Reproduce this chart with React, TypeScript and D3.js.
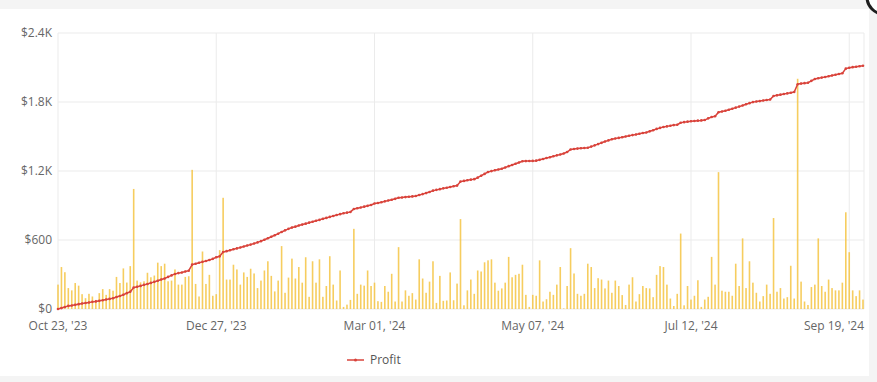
import React from "react";
import * as d3 from "d3";

const tickLabels = ["Oct 23, '23", "Dec 27, '23", "Mar 01, '24", "May 07, '24", "Jul 12, '24", "Sep 19, '24"];
const tickIndices = [0, 46, 92, 138, 184, 230];
const yTicks = [0, 600, 1200, 1800, 2400];

const barValues = [
  212, 365, 320, 182, 162, 226, 203, 129, 94, 132,
  109, 79, 138, 173, 123, 173, 159, 279, 226, 353,
  230, 373, 1044, 247, 232, 241, 315, 276, 291, 403,
  373, 394, 241, 247, 344, 212, 212, 279, 285, 1210,
  218, 109, 500, 218, 297, 115, 129, 512, 967, 256,
  256, 385, 344, 212, 318, 279, 350, 309, 182, 247,
  335, 415, 288, 153, 247, 547, 141, 273, 438, 265,
  365, 229, 450, 106, 415, 229, 432, 106, 200, 459,
  212, 74, 335, 18, 38, 79, 697, 132, 212, 203,
  335, 200, 229, 68, 62, 200, 150, 306, 65, 538,
  65, 162, 115, 138, 82, 432, 265, 141, 238, 415,
  53, 288, 71, 74, 318, 76, 221, 782, 32, 162,
  256, 132, 335, 326, 406, 423, 432, 229, 159, 179,
  229, 453, 276, 297, 306, 385, 123, 18, 123, 115,
  423, 65, 85, 150, 123, 212, 365, 5, 200, 529,
  309, 132, 115, 132, 394, 365, 182, 268, 256, 179,
  247, 141, 247, 200, 121, 35, 212, 276, 65, 129,
  200, 182, 179, 103, 297, 373, 365, 212, 91, 26,
  132, 656, 32, 200, 82, 115, 250, 18, 82, 106,
  453, 212, 1190, 159, 150, 150, 115, 394, 200, 614,
  182, 415, 229, 141, 65, 112, 212, 132, 791, 150,
  182, 91, 103, 376, 91, 2002, 238, 65, 35, 191,
  212, 614, 200, 150, 256, 182, 162, 162, 229, 841,
  494, 162, 112, 162, 82,
];

const profitValues = [
  0, 8, 18, 27, 31, 36, 42, 48, 52, 57,
  62, 66, 71, 76, 82, 88, 94, 104, 113, 124,
  138, 150, 186, 193, 201, 210, 218, 227, 236, 246,
  256, 265, 279, 292, 305, 312, 318, 326, 333, 386,
  393, 402, 410, 418, 426, 436, 450, 458, 496, 503,
  511, 519, 527, 535, 543, 552, 560, 569, 579, 590,
  602, 615, 628, 641, 655, 670, 684, 697, 708, 716,
  726, 734, 742, 751, 759, 768, 775, 784, 792, 801,
  809, 817, 825, 833, 838, 844, 870, 876, 882, 890,
  897, 905, 917, 922, 928, 936, 944, 950, 958, 967,
  970, 973, 976, 979, 982, 991, 999, 1008, 1018, 1029,
  1036, 1042, 1049, 1055, 1061, 1067, 1073, 1108, 1114, 1120,
  1125, 1129, 1142, 1159, 1175, 1191, 1199, 1206, 1213, 1220,
  1231, 1242, 1252, 1263, 1274, 1285, 1286, 1287, 1288, 1290,
  1297, 1305, 1313, 1320, 1328, 1336, 1344, 1352, 1365, 1387,
  1391, 1395, 1398, 1400, 1402, 1412, 1423, 1434, 1445, 1456,
  1466, 1476, 1482, 1488, 1494, 1500, 1506, 1512, 1518, 1524,
  1530, 1535, 1545, 1555, 1566, 1575, 1582, 1588, 1593, 1599,
  1602, 1619, 1625, 1629, 1632, 1635, 1638, 1640, 1643, 1658,
  1670, 1676, 1711, 1717, 1724, 1732, 1741, 1751, 1760, 1770,
  1780, 1790, 1799, 1804, 1808, 1813, 1818, 1822, 1852, 1858,
  1864, 1869, 1875, 1880, 1887, 1955, 1960, 1964, 1968, 1984,
  2000, 2006, 2012, 2018, 2024, 2031, 2037, 2044, 2050, 2090,
  2098, 2103, 2107, 2111, 2115,
];

const W = 877;
const H = 382;
const M = { left: 58, right: 864, top: 33, bottom: 309 };
const FONT = "'Open Sans', 'Noto Sans', sans-serif";

export default function App() {
  const n = barValues.length;
  const x = d3.scaleLinear().domain([0, n - 1]).range([M.left, M.right - 1]);
  const y = d3.scaleLinear().domain([0, 2400]).range([M.bottom, M.top]);
  const line = d3
    .line<number>()
    .x((_, i) => x(i))
    .y((d) => y(d));

  return (
    <svg
      width={W}
      height={H}
      style={{ position: "absolute", left: 0, top: 0, fontFamily: FONT }}
    >
      <rect x={0} y={0} width={W} height={H} fill="#f4f4f4" />
      <rect x={0} y={9} width={869} height={367} fill="#ffffff" />
      <circle cx={884} cy={-3} r={17} fill="#ffffff" stroke="#1e1e1e" strokeWidth={3} />

      {/* grid */}
      {yTicks.map((t) => (
        <line
          key={"gy" + t}
          x1={M.left}
          x2={M.right}
          y1={y(t)}
          y2={y(t)}
          stroke="#ebebeb"
          strokeWidth={1}
        />
      ))}
      {tickIndices.map((ti) => (
        <line
          key={"gx" + ti}
          x1={x(ti)}
          x2={x(ti)}
          y1={M.top}
          y2={M.bottom}
          stroke="#ebebeb"
          strokeWidth={1}
        />
      ))}
      <line x1={M.right} x2={M.right} y1={M.top} y2={M.bottom} stroke="#ebebeb" />

      {/* bars */}
      {barValues.map((v, i) => (
        <rect
          key={"b" + i}
          x={x(i) - 0.8}
          y={y(v)}
          width={1.6}
          height={y(0) - y(v)}
          fill="#f5c443"
          opacity={0.85}
        />
      ))}

      {/* profit line */}
      <path d={line(profitValues) || ""} fill="none" stroke="#d9433b" strokeWidth={1.5} />
      {profitValues.map((v, i) => (
        <circle key={"p" + i} cx={x(i)} cy={y(v)} r={1.3} fill="#d9433b" />
      ))}

      {/* y labels */}
      {yTicks.map((t) => (
        <text
          key={"yl" + t}
          x={52}
          y={y(t)}
          dy="0.35em"
          textAnchor="end"
          fontSize={12}
          fill="#666"
        >
          {t === 0 ? "$0" : t >= 1000 ? `$${d3.format(".1f")(t / 1000)}K` : `$${t}`}
        </text>
      ))}

      {/* x labels */}
      {tickIndices.map((ti, k) => {
        const last = k === tickIndices.length - 1;
        return (
          <text
            key={"xl" + ti}
            x={last ? M.right : x(ti)}
            y={326}
            dy="0.35em"
            textAnchor={last ? "end" : "middle"}
            fontSize={12}
            fill="#666"
          >
            {tickLabels[k]}
          </text>
        );
      })}

      {/* legend */}
      <line x1={347} x2={364} y1={360} y2={360} stroke="#d9433b" strokeWidth={1.5} />
      <circle cx={355.5} cy={360} r={1.5} fill="#d9433b" />
      <text x={370} y={360} dy="0.35em" fontSize={12} fill="#555">
        Profit
      </text>
    </svg>
  );
}
